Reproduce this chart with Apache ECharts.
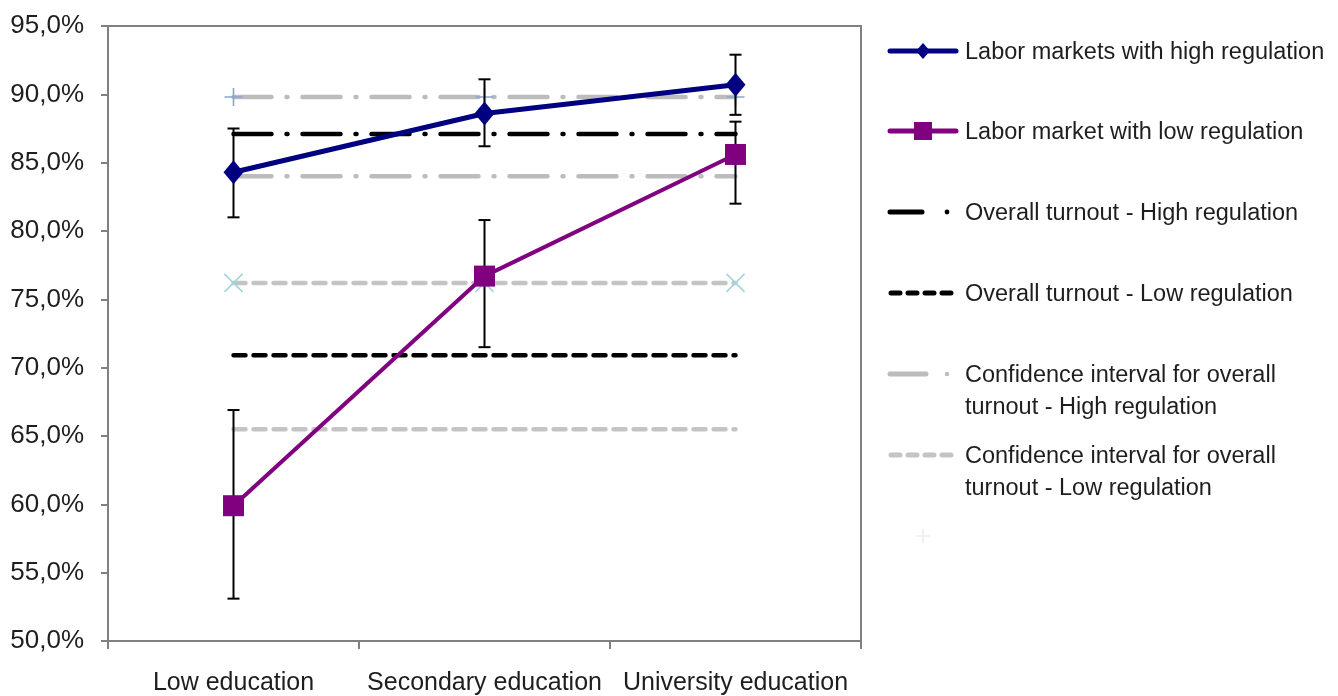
<!DOCTYPE html>
<html>
<head>
<meta charset="utf-8">
<script src="https://cdn.jsdelivr.net/npm/echarts@6/dist/echarts.min.js"></script>
<style>
html,body{margin:0;padding:0;background:#fff;}
#chart{width:1338px;height:696px;}
</style>
</head>
<body>
<div id="chart"></div>
<script>
const categories = ['Low education', 'Secondary education', 'University education'];
const highReg = [84.3, 88.6, 90.7];
const lowReg = [59.9, 76.7, 85.6];
const highRegErrLow = [81.0, 86.2, 88.5];
const highRegErrHigh = [87.5, 91.1, 92.9];
const lowRegErrLow = [53.1, 71.5, 82.0];
const lowRegErrHigh = [66.9, 80.8, 88.0];
const overallHigh = [87.1, 87.1, 87.1];
const overallLow = [70.9, 70.9, 70.9];
const ciHighUpper = [89.8, 89.8, 89.8];
const ciHighLower = [84.0, 84.0, 84.0];
const ciLowUpper = [76.2, 76.2, 76.2];
const ciLowLower = [65.5, 65.5, 65.5];
const yTicks = [50, 55, 60, 65, 70, 75, 80, 85, 90, 95];
const legendNames = [
  'Labor markets with high regulation',
  'Labor market with low regulation',
  'Overall turnout - High regulation',
  'Overall turnout - Low regulation',
  'Confidence interval for overall\nturnout - High regulation',
  'Confidence interval for overall\nturnout - Low regulation'
];

const FONT = '"Liberation Sans", Arial, sans-serif';
const NAVY = '#000080', PURPLE = '#800080', GRAY = '#bcbcbc', GRAY2 = '#c4c4c4';
const PLUS = 'path://M0,5 L10,5 M5,0 L5,10';
const CROSS = 'path://M0,0 L10,10 M10,0 L0,10';

function errData(lo, hi) { return categories.map((c, i) => [i, lo[i], hi[i]]); }
function errRender(params, api) {
  const i = api.value(0);
  const p1 = api.coord([i, api.value(1)]);
  const p2 = api.coord([i, api.value(2)]);
  const w = 6;
  const st = { stroke: '#000', lineWidth: 2 };
  return { type: 'group', children: [
    { type: 'line', shape: { x1: p1[0], y1: p1[1], x2: p2[0], y2: p2[1] }, style: st },
    { type: 'line', shape: { x1: p1[0] - w, y1: p1[1], x2: p1[0] + w, y2: p1[1] }, style: st },
    { type: 'line', shape: { x1: p2[0] - w, y1: p2[1], x2: p2[0] + w, y2: p2[1] }, style: st }
  ]};
}

function hline(name, data, color, dash, width, symbol, symColor, z) {
  return {
    name: name, type: 'line', data: data, z: z,
    lineStyle: { color: color, width: width, type: dash, cap: 'round' },
    symbol: symbol || 'none', symbolSize: 18, showSymbol: !!symbol,
    itemStyle: { color: 'none', borderColor: symColor || color, borderWidth: 1.6 },
    silent: true, animation: false
  };
}

// Legend (graphic)
const lg = [];
const legY = [51, 131, 212, 293, 374, 455];
const tx = 965;
function seg(x1, x2, y, color, w, dash) {
  lg.push({ type: 'line', shape: { x1: x1, y1: y, x2: x2, y2: y }, style: { stroke: color, lineWidth: w, lineDash: dash || null, lineCap: 'round' } });
}
seg(890, 956, legY[0], NAVY, 5);
lg.push({ type: 'polygon', shape: { points: [[923, legY[0] - 8], [930, legY[0]], [923, legY[0] + 8], [916, legY[0]]] }, style: { fill: NAVY } });
seg(890, 956, legY[1], PURPLE, 5);
lg.push({ type: 'rect', shape: { x: 914, y: legY[1] - 9, width: 18, height: 18 }, style: { fill: PURPLE } });
seg(890, 922, legY[2], '#000', 5);
lg.push({ type: 'circle', shape: { cx: 947, cy: legY[2], r: 2.4 }, style: { fill: '#000' } });
seg(891, 958, legY[3], '#000', 5, [9, 8]);
seg(890, 926, legY[4], GRAY, 5);
lg.push({ type: 'circle', shape: { cx: 947, cy: legY[4], r: 2.2 }, style: { fill: GRAY } });
seg(891, 958, legY[5], GRAY2, 5, [9, 8]);
lg.push({ type: 'line', shape: { x1: 916, y1: 536, x2: 930, y2: 536 }, style: { stroke: '#e4e8f0', lineWidth: 1.2 } });
lg.push({ type: 'line', shape: { x1: 923, y1: 529, x2: 923, y2: 543 }, style: { stroke: '#e4e8f0', lineWidth: 1.2 } });
legendNames.forEach((n, i) => {
  lg.push({ type: 'text', x: tx, y: legY[i] - 14, style: { text: n, font: '23.5px ' + FONT, fill: '#1e1e1e', lineHeight: 32, textVerticalAlign: 'top' } });
});

const chart = echarts.init(document.getElementById('chart'));
chart.setOption({
  backgroundColor: '#fff',
  animation: false,
  grid: { left: 108, right: 477, top: 26, bottom: 54, show: true, borderColor: '#808080', borderWidth: 2, backgroundColor: 'transparent' },
  xAxis: {
    type: 'category', data: categories, boundaryGap: true,
    axisLine: { lineStyle: { color: '#808080', width: 2 } },
    axisTick: { show: true, length: 8, lineStyle: { color: '#808080', width: 2 } },
    axisLabel: { fontFamily: FONT, fontSize: 25, color: '#1e1e1e', margin: 30, interval: 0, hideOverlap: false },
    splitLine: { show: false }
  },
  yAxis: {
    type: 'value', min: 50, max: 95, interval: 5,
    axisLine: { show: true, lineStyle: { color: '#808080', width: 2 } },
    axisTick: { show: true, length: 7, lineStyle: { color: '#808080', width: 2 } },
    axisLabel: { fontFamily: FONT, fontSize: 26, color: '#1e1e1e', margin: 24,
      formatter: v => yTicks.indexOf(v) >= 0 ? v.toFixed(1).replace('.', ',') + '%' : '' },
    splitLine: { show: false }
  },
  graphic: lg,
  series: [
    hline('ciHighUpper', ciHighUpper, GRAY, [38, 15, 1, 15], 4.5, PLUS, '#8aa4cc', 2),
    hline('ciHighLower', ciHighLower, GRAY, [38, 15, 1, 15], 4.5, null, null, 2),
    hline('ciLowUpper', ciLowUpper, GRAY2, [12, 8], 4.5, CROSS, '#a6d4de', 2),
    hline('ciLowLower', ciLowLower, GRAY2, [12, 8], 4.5, null, null, 2),
    hline('overallHigh', overallHigh, '#000', [38, 15, 1, 15], 4.5, null, null, 3),
    hline('overallLow', overallLow, '#000', [12, 8], 4.5, null, null, 3),
    { type: 'custom', name: 'errHigh', data: errData(highRegErrLow, highRegErrHigh), renderItem: errRender, z: 4, silent: true },
    { type: 'custom', name: 'errLow', data: errData(lowRegErrLow, lowRegErrHigh), renderItem: errRender, z: 4, silent: true },
    { type: 'line', name: legendNames[0], data: highReg, z: 5, symbol: 'diamond', symbolSize: [20, 24],
      lineStyle: { color: NAVY, width: 5 }, itemStyle: { color: NAVY } },
    { type: 'line', name: legendNames[1], data: lowReg, z: 5, symbol: 'rect', symbolSize: 21,
      lineStyle: { color: PURPLE, width: 4 }, itemStyle: { color: PURPLE } }
  ]
});
</script>
</body>
</html>
